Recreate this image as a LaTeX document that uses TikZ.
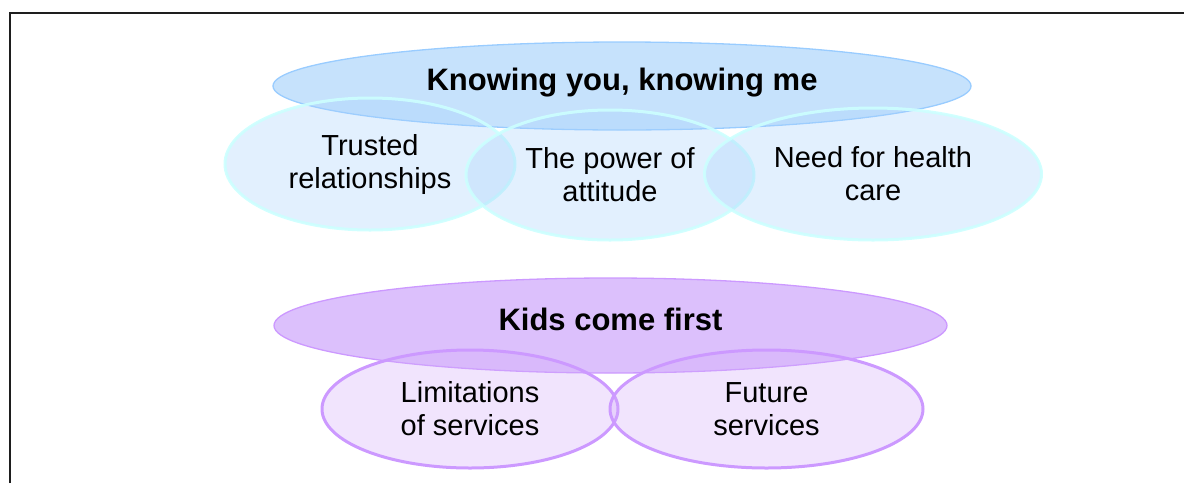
\documentclass[tikz,border=0pt]{standalone}
\usepackage{fontspec}
\setmainfont{Liberation Sans}
\usetikzlibrary{shapes.geometric}
\definecolor{frameink}{HTML}{1E1E1E}
\definecolor{skyfill}{HTML}{C6E2FC}
\definecolor{skyline}{HTML}{99CCFF}
\definecolor{icefill}{HTML}{A7D1FC}
\definecolor{iceline}{HTML}{CCFFFF}
\definecolor{lilacfill}{HTML}{DCC0FC}
\definecolor{lilacline}{HTML}{CC99FF}
\definecolor{mauvefill}{HTML}{D4ADFA}

\begin{document}
\begin{tikzpicture}[x=1pt,y=-1pt,
  font=\fontsize{29}{33}\selectfont,
  blob/.style={ellipse,inner sep=0pt,align=center},
  theme/.style={blob,font=\bfseries\fontsize{31}{33}\selectfont,text depth=13pt,line width=1.3pt},
  part/.style={blob,line width=3pt,fill opacity=.33,text opacity=1},
  bluetheme/.style={theme,draw=skyline,fill=skyfill},
  bluepart/.style={part,draw=iceline,draw opacity=.9,fill=icefill},
  lilactheme/.style={theme,draw=lilacline,fill=lilacfill},
  lilacpart/.style={part,draw=lilacline,fill=mauvefill}]
\useasboundingbox (0,0) rectangle (1184,483);
\draw[frameink,line width=2.2pt] (10,483) -- (10,13) -- (1184,13);

% first theme and its three parts
\node[bluetheme,minimum width=698pt,minimum height=88pt] (knowing) at (622,86) {Knowing you, knowing me};
\node[bluepart,minimum width=290pt,minimum height=132pt] (trust) at (370,164) {Trusted\\relationships};
\node[bluepart,minimum width=288pt,minimum height=130pt] (attitude) at (610,175) {The power of\\attitude};
\node[bluepart,minimum width=337pt,minimum height=132pt] (health) at (873,174) {Need for health\\care};

% second theme and its two parts
\node[lilactheme,minimum width=673pt,minimum height=95pt] (kids) at (610.5,325.5) {Kids come first};
\node[lilacpart,minimum width=296pt,minimum height=118pt] (limits) at (470,409) {Limitations\\of services};
\node[lilacpart,minimum width=313pt,minimum height=118pt] (future) at (766.5,409) {Future\\services};
\end{tikzpicture}
\end{document}
